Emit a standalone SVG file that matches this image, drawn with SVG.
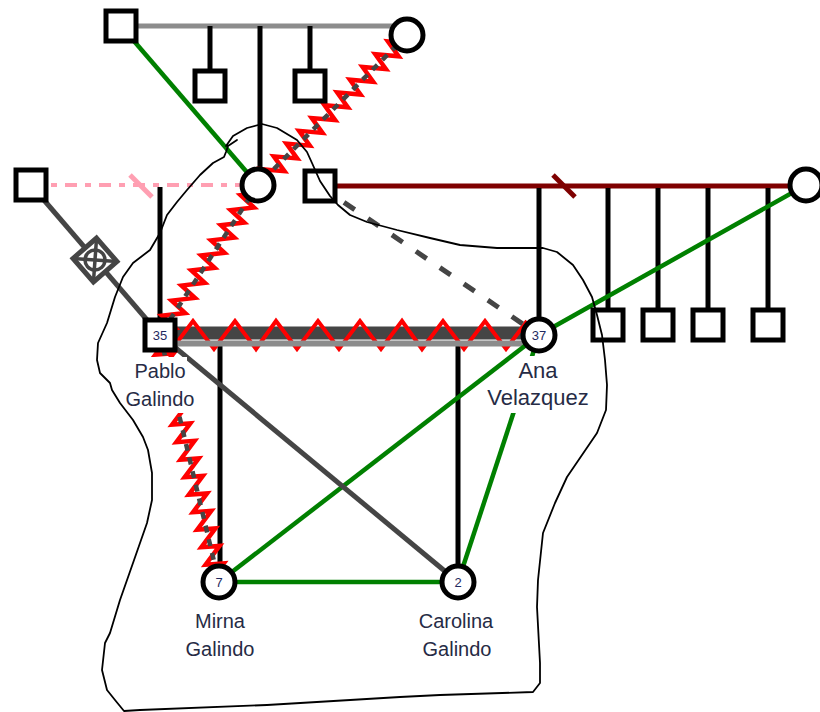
<svg xmlns="http://www.w3.org/2000/svg" width="820" height="712" viewBox="0 0 820 712">
  <defs>
    <style>
      .n{fill:#fff;stroke:#000;stroke-width:5}
      .child{stroke:#000;stroke-width:5;fill:none}
      .green{stroke:#008000;stroke-width:4.5;fill:none}
      .dk{stroke:#454545;stroke-width:5;fill:none}
      .zig{stroke:#ff0000;stroke-width:4.5;fill:none;stroke-linejoin:miter;stroke-miterlimit:5}
      .zigc{stroke:#454545;stroke-width:4.5;stroke-dasharray:7 7;fill:none}
      .age{font-family:"Liberation Sans",Arial,sans-serif;font-size:13px;fill:#1f2a60;text-anchor:middle}
      .lbl{font-family:"Liberation Sans",Arial,sans-serif;font-size:20px;fill:#262b45;text-anchor:middle}
      .bg{fill:#fff}
      .outline{fill:none;stroke:#000;stroke-width:1.8;stroke-linejoin:round;stroke-linecap:round}
    </style>
  </defs>

  <rect width="820" height="712" fill="#fff"/>

  <g id="connectors">
    <!-- family lines -->
    <line x1="121" y1="26" x2="400" y2="26" stroke="#8c8c8c" stroke-width="5"/>
    <line class="child" x1="210" y1="26" x2="210" y2="71"/>
    <line class="child" x1="260" y1="26" x2="260" y2="169"/>
    <line class="child" x1="310" y1="26" x2="310" y2="71"/>

    <line x1="31" y1="185" x2="258" y2="185" stroke="#ff9fb2" stroke-width="4" stroke-dasharray="12 8 6 8"/>
    <line x1="130" y1="175" x2="152" y2="197" stroke="#ff9fb2" stroke-width="5"/>
    <line class="child" x1="160" y1="187" x2="160" y2="320"/>

    <line x1="320" y1="186" x2="806" y2="186" stroke="#7f0000" stroke-width="5"/>
    <line x1="553" y1="175" x2="575" y2="197" stroke="#7f0000" stroke-width="5"/>
    <line class="child" x1="539" y1="188" x2="539" y2="319"/>
    <line class="child" x1="608" y1="188" x2="608" y2="310"/>
    <line class="child" x1="658" y1="188" x2="658" y2="310"/>
    <line class="child" x1="708" y1="188" x2="708" y2="310"/>
    <line class="child" x1="768" y1="188" x2="768" y2="310"/>

    <line class="child" x1="220" y1="346" x2="220" y2="566"/>
    <line class="child" x1="458" y1="346" x2="458" y2="566"/>

    <!-- Pablo / Ana: violent bond over the couple line -->
    <line x1="160" y1="333" x2="539" y2="333" stroke="#454545" stroke-width="13"/>
    <polyline class="zig" style="stroke-width:4" points="172,349 193,321 214,349 235,321 256,349 276,321 297,349 318,321 339,349 360,321 381,349 402,321 422,349 443,321 464,349 485,321 506,349 527,321"/>
    <line x1="160" y1="343.5" x2="539" y2="343.5" stroke="#8c8c8c" stroke-width="6"/>

    <!-- emotional relationships -->
    <line class="green" x1="121" y1="26" x2="258" y2="185"/>
    <line class="green" x1="806" y1="185" x2="539" y2="335"/>
    <line class="green" x1="539" y1="335" x2="219" y2="582"/>
    <line class="green" x1="539" y1="335" x2="458" y2="582"/>
    <line class="green" x1="219" y1="582" x2="458" y2="582"/>

    <line class="dk" x1="320" y1="186" x2="539" y2="335" stroke-dasharray="13 16"/>
    <line class="dk" x1="31" y1="185" x2="160" y2="335"/>
    <line class="dk" x1="160" y1="335" x2="458" y2="582"/>
    <g transform="translate(95,260) rotate(4)" stroke="#454545" fill="none">
      <polygon points="0,-22 22,0 0,22 -22,0" fill="#fff" stroke-width="5"/>
      <circle r="10" stroke-width="3.5"/>
      <line x1="0" y1="-22" x2="0" y2="22" stroke-width="3.5"/>
      <line x1="-22" y1="0" x2="22" y2="0" stroke-width="3.5"/>
    </g>

    <!-- hostile relationships -->
    <g transform="translate(407,35) rotate(134.8)">
      <path class="zig" d="M0 9 l3 -18 l15 18 l3 -18 l15 18 l3 -18 l15 18 l3 -18 l15 18 l3 -18 l15 18 l3 -18 l15 18 l3 -18 l15 18 l3 -18 l15 18 l3 -18 l15 18 l3 -18 l15 18 l3 -18 l15 18 l3 -18 l15 18"/>
      <path class="zigc" d="M0 0 H212"/>
    </g>
    <g transform="translate(258,185) rotate(123.16)">
      <path class="zig" d="M0 9 l3 -18 l15 18 l3 -18 l15 18 l3 -18 l15 18 l3 -18 l15 18 l3 -18 l15 18 l3 -18 l15 18 l3 -18 l15 18 l3 -18 l15 18 l3 -18 l15 18 l3 -18 l15 18"/>
      <path class="zigc" d="M0 0 H179"/>
    </g>
    <g transform="translate(160,335) rotate(76.57)">
      <path class="zig" d="M0 9 l3 -18 l15 18 l3 -18 l15 18 l3 -18 l15 18 l3 -18 l15 18 l3 -18 l15 18 l3 -18 l15 18 l3 -18 l15 18 l3 -18 l15 18 l3 -18 l15 18 l3 -18 l15 18 l3 -18 l15 18 l3 -18 l15 18 l3 -18 l15 18 l3 -18 l15 18"/>
      <path class="zigc" d="M0 0 H254"/>
    </g>
  </g>

  <g id="n-paternal-grandfather"><rect class="n" x="106" y="11" width="30" height="30"/></g>
  <g id="n-paternal-grandmother"><circle class="n" cx="407" cy="35" r="16"/></g>
  <g id="n-uncle-1"><rect class="n" x="195" y="71" width="30" height="30"/></g>
  <g id="n-uncle-2"><rect class="n" x="295" y="71" width="30" height="30"/></g>
  <g id="n-pablo-mother"><circle class="n" cx="258" cy="185" r="16"/></g>
  <g id="n-pablo-father"><rect class="n" x="16" y="170" width="30" height="30"/></g>
  <g id="n-ana-father"><rect class="n" x="305" y="171" width="30" height="30"/></g>
  <g id="n-ana-mother"><circle class="n" cx="806" cy="185" r="16"/></g>
  <g id="n-ana-brother-1"><rect class="n" x="593" y="310" width="30" height="30"/></g>
  <g id="n-ana-brother-2"><rect class="n" x="643" y="310" width="30" height="30"/></g>
  <g id="n-ana-brother-3"><rect class="n" x="693" y="310" width="30" height="30"/></g>
  <g id="n-ana-brother-4"><rect class="n" x="753" y="310" width="30" height="30"/></g>

  <g id="n-pablo">
    <rect class="n" x="145" y="320" width="30" height="30"/>
    <text class="age" x="160" y="340">35</text>
    <rect class="bg" x="133" y="357" width="54" height="28"/>
    <rect class="bg" x="124" y="385" width="72" height="28"/>
    <text class="lbl" x="160" y="378">Pablo</text>
    <text class="lbl" x="160" y="406">Galindo</text>
  </g>
  <g id="n-ana">
    <circle class="n" cx="539" cy="335" r="16"/>
    <text class="age" x="539" y="340">37</text>
    <rect class="bg" x="518" y="356" width="41" height="29"/>
    <rect class="bg" x="486" y="385" width="105" height="28"/>
    <text class="lbl" x="538" y="378" style="font-size:22px">Ana</text>
    <text class="lbl" x="538" y="405" style="font-size:22px">Velazquez</text>
  </g>
  <g id="n-mirna">
    <circle class="n" cx="219" cy="582" r="16"/>
    <text class="age" x="219" y="587">7</text>
    <text class="lbl" x="220" y="628">Mirna</text>
    <text class="lbl" x="220" y="656">Galindo</text>
  </g>
  <g id="n-carolina">
    <circle class="n" cx="458" cy="582" r="16"/>
    <text class="age" x="458" y="587">2</text>
    <text class="lbl" x="456" y="628">Carolina</text>
    <text class="lbl" x="457" y="656">Galindo</text>
  </g>

  <!-- hand-drawn household boundary -->
  <path class="outline" d="M237,140 L228,146 L226,152 L224,157 L213,163 L200,175 L187,190 L177,202 L167,215 L160,233 L150,250 L133,263 L123,277 L115,297 L107,323 L98,343 L97,360 L100,373 L110,383 L112,390 L120,403 L133,420 L143,437 L148,450 L152,473 L152,500 L147,523 L133,563 L120,600 L110,633 L105,643 L102,670 L107,690 L115,700 L124,711 L140,710 L267,705 L400,697 L440,695 L533,692 L540,683 L540,663 L537,607 L538,580 L543,533 L555,503 L567,477 L582,455 L597,433 L606,410 L607,385 L605,360 L602,335 L597,315 L592,297 L583,280 L573,265 L557,252 L543,248 L497,248 L460,245 L430,238 L397,230 L367,222 L350,215 L338,205 L330,196 L320,181 L312,163 L307,152 L297,140 L277,128 L262,124 L247,128 L233,136 L226,146"/>
</svg>
